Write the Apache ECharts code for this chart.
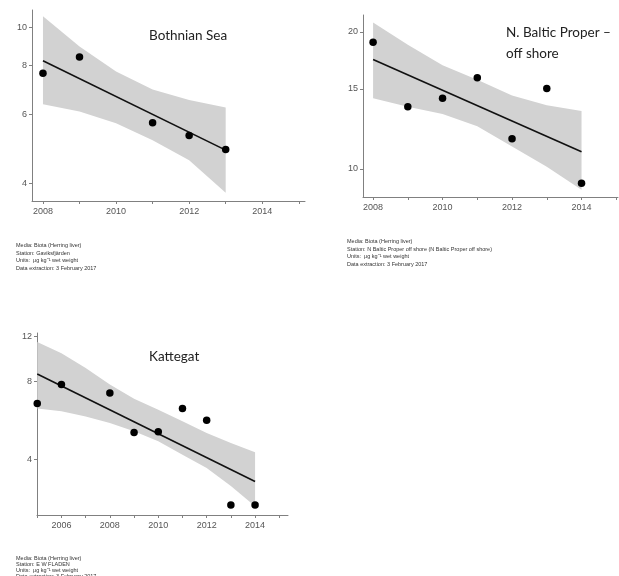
<!DOCTYPE html>
<html>
<head>
<meta charset="utf-8">
<script src="https://cdn.jsdelivr.net/npm/echarts@6/dist/echarts.min.js"></script>
<style>
  html, body { margin: 0; padding: 0; background: #fff; }
  #chart { width: 619px; height: 576px; }
</style>
</head>
<body>
<div id="chart"></div>
<script>
// Bothnian Sea
const bothnianYears = [2008, 2009, 2011, 2012, 2013];
const bothnianValues = [7.65, 8.41, 5.71, 5.30, 4.88];
const bothnianTrendYears = [2008, 2013];
const bothnianTrend = [8.23, 4.86];
const bothnianBandYears = [2008, 2009, 2010, 2011, 2012, 2013];
const bothnianUpper = [10.7, 8.95, 7.72, 6.95, 6.53, 6.25];
const bothnianLower = [6.37, 6.1, 5.69, 5.15, 4.58, 3.78];

// N. Baltic Proper - off shore
const balticYears = [2008, 2009, 2010, 2011, 2012, 2013, 2014];
const balticValues = [19.0, 13.7, 14.3, 15.86, 11.65, 15.02, 9.30];
const balticTrendYears = [2008, 2014];
const balticTrend = [17.4, 10.9];
const balticBandYears = [2008, 2009, 2010, 2011, 2012, 2013, 2014];
const balticUpper = [21.0, 18.75, 16.9, 15.7, 14.5, 13.8, 13.4];
const balticLower = [14.3, 13.7, 13.2, 12.4, 11.2, 10.1, 9.0];

// Kattegat
const kattegatYears = [2005, 2006, 2008, 2009, 2010, 2011, 2012, 2013, 2014];
const kattegatValues = [6.59, 7.79, 7.23, 5.09, 5.12, 6.29, 5.67, 2.67, 2.67];
const kattegatTrendYears = [2005, 2014];
const kattegatTrend = [8.56, 3.29];
const kattegatBandYears = [2005, 2006, 2007, 2008, 2009, 2010, 2011, 2012, 2013, 2014];
const kattegatUpper = [11.38, 10.3, 9.03, 7.79, 6.87, 6.23, 5.62, 5.06, 4.63, 4.27];
const kattegatLower = [6.29, 6.14, 5.87, 5.53, 5.14, 4.70, 4.17, 3.71, 3.16, 2.64];

// tick labels
const bothnianYTicks = [4, 6, 8, 10];
const balticYTicks = [10, 15, 20];
const kattegatYTicks = [4, 8, 12];
const xTicks1 = [2008, 2009, 2010, 2011, 2012, 2013, 2014, 2015];
const xLabels1 = [2008, 2010, 2012, 2014];
const xTicks3 = [2005, 2006, 2007, 2008, 2009, 2010, 2011, 2012, 2013, 2014, 2015];
const xLabels3 = [2006, 2008, 2010, 2012, 2014];

const captions = [
  ['Media: Biota (Herring liver)', 'Station: Gaviksfjärden', 'Units:  μg kg⁻¹ wet weight', 'Data extraction: 3 February 2017'],
  ['Media: Biota (Herring liver)', 'Station: N Baltic Proper off shore (N Baltic Proper off shore)', 'Units:  μg kg⁻¹ wet weight', 'Data extraction: 3 February 2017'],
  ['Media: Biota (Herring liver)', 'Station: E W FLADEN', 'Units:  μg kg⁻¹ wet weight', 'Data extraction: 3 February 2017']
];

const axisColor = '#808080';
const labelColor = '#555';
const font = 'Liberation Sans';

const zip = (xs, ys) => xs.map((x, i) => [x, ys[i]]);

function xAxis(idx, min, max, ticks, labels) {
  return {
    type: 'value', gridIndex: idx, min: min, max: max,
    splitLine: { show: false },
    axisLine: { lineStyle: { color: axisColor, width: 1 } },
    axisTick: { customValues: ticks, length: 3, lineStyle: { color: axisColor } },
    axisLabel: {
      customValues: labels, color: labelColor, fontSize: 9, fontFamily: font, margin: 6,
      formatter: (v) => String(v)
    }
  };
}

function yAxis(idx, min, max, ticks) {
  return {
    type: 'log', logBase: 10, gridIndex: idx, min: min, max: max,
    splitLine: { show: false },
    axisLine: { show: true, lineStyle: { color: axisColor, width: 1 } },
    axisTick: { show: true, customValues: ticks, length: 3, lineStyle: { color: axisColor } },
    axisLabel: { customValues: ticks, color: labelColor, fontSize: 9, fontFamily: font, margin: 5 }
  };
}

function band(idx, years, upper, lower) {
  return {
    type: 'custom', xAxisIndex: idx, yAxisIndex: idx, silent: true, z: 1,
    data: years.map((y, i) => [y, lower[i], upper[i]]),
    renderItem: function (params, api) {
      if (params.dataIndex !== 0) return;
      const pts = [];
      years.forEach((y, i) => pts.push(api.coord([y, upper[i]])));
      for (let i = years.length - 1; i >= 0; i--) pts.push(api.coord([years[i], lower[i]]));
      return { type: 'polygon', shape: { points: pts }, style: { fill: '#d2d2d2' } };
    }
  };
}

function trend(idx, years, vals) {
  return {
    type: 'line', xAxisIndex: idx, yAxisIndex: idx, data: zip(years, vals),
    symbol: 'none', z: 3, lineStyle: { color: '#111', width: 1.6 }
  };
}

function points(idx, years, vals) {
  return {
    type: 'scatter', xAxisIndex: idx, yAxisIndex: idx, data: zip(years, vals),
    symbol: 'circle', symbolSize: 7.5, z: 4, itemStyle: { color: '#000', opacity: 1 }
  };
}

const titleStyle = { fontFamily: 'Lato', fontSize: 13.5, fontWeight: 'normal', color: '#222', lineHeight: 21 };
const captionStyle = { fontFamily: font, fontSize: 5.5, fontWeight: 'normal', color: '#333', lineHeight: 7.5 };

const chart = echarts.init(document.getElementById('chart'));
chart.setOption({
  animation: false,
  backgroundColor: '#fff',
  title: [
    { text: 'Bothnian Sea', left: 144, top: 20, textStyle: titleStyle },
    { text: 'N. Baltic Proper –\noff shore', left: 501, top: 17, textStyle: titleStyle },
    { text: 'Kattegat', left: 144, top: 341, textStyle: titleStyle },
    { text: captions[0].join('\n'), left: 11, top: 237, textStyle: captionStyle },
    { text: captions[1].join('\n'), left: 342, top: 233, textStyle: captionStyle },
    { text: captions[2].join('\n'), left: 11, top: 550, textStyle: Object.assign({}, captionStyle, { lineHeight: 6 }) }
  ],
  grid: [
    { left: 32, top: 10, width: 273, height: 191 },
    { left: 363, top: 15, width: 255, height: 182 },
    { left: 37, top: 333, width: 251, height: 182 }
  ],
  xAxis: [
    xAxis(0, 2007.7, 2015.17, xTicks1, xLabels1),
    xAxis(1, 2007.71, 2015.05, xTicks1, xLabels1),
    xAxis(2, 2004.99, 2015.36, xTicks3, xLabels3)
  ],
  yAxis: [
    yAxis(0, 3.6, 11.1, bothnianYTicks),
    yAxis(1, 8.67, 21.8, balticYTicks),
    yAxis(2, 2.44, 12.33, kattegatYTicks)
  ],
  series: [
    band(0, bothnianBandYears, bothnianUpper, bothnianLower),
    trend(0, bothnianTrendYears, bothnianTrend),
    points(0, bothnianYears, bothnianValues),
    band(1, balticBandYears, balticUpper, balticLower),
    trend(1, balticTrendYears, balticTrend),
    points(1, balticYears, balticValues),
    band(2, kattegatBandYears, kattegatUpper, kattegatLower),
    trend(2, kattegatTrendYears, kattegatTrend),
    points(2, kattegatYears, kattegatValues)
  ]
});
</script>
</body>
</html>
